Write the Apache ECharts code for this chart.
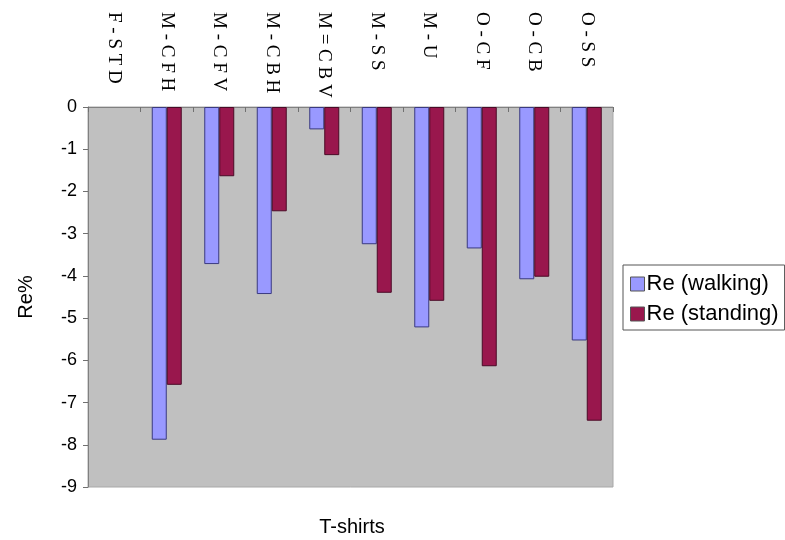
<!DOCTYPE html>
<html>
<head>
<meta charset="utf-8">
<script src="https://cdn.jsdelivr.net/npm/echarts@6/dist/echarts.min.js"></script>
<style>
  html, body { margin: 0; padding: 0; background: #ffffff; }
  #chart { width: 785px; height: 540px; }
</style>
</head>
<body>
<div id="chart"></div>
<script>
// T-shirt variants along the category axis
const categories = ['F-STD', 'M-CFH', 'M-CFV', 'M-CBH', 'M=CBV', 'M-SS', 'M-U', 'O-CF', 'O-CB', 'O-SS'];
// Re% while walking and while standing
const reWalking  = [0, -7.88, -3.72, -4.43, -0.53, -3.25, -5.22, -3.35, -4.08, -5.53];
const reStanding = [0, -6.58, -1.64, -2.47, -1.14, -4.40, -4.59, -6.14, -4.02, -7.43];
const seriesNames = ['Re (walking)', 'Re (standing)'];
const yMin = -9, yMax = 0, yStep = 1;

// zero-height bars get no outline so they leave no stray line on the axis
const toBarData = arr => arr.map(v => (v === 0 ? { value: v, itemStyle: { borderWidth: 0 } } : v));

const chart = echarts.init(document.getElementById('chart'), null, { renderer: 'canvas' });

chart.setOption({
  backgroundColor: '#ffffff',
  animation: false,
  grid: {
    left: 88, right: 172, top: 107, bottom: 53,
    show: true,
    backgroundColor: '#c0c0c0',
    borderColor: '#a8a8a8',
    borderWidth: 1
  },
  legend: {
    orient: 'vertical',
    left: 623, top: 265,
    padding: [8, 6, 5, 7],
    itemWidth: 14, itemHeight: 14, itemGap: 8,
    borderColor: '#555555', borderWidth: 1,
    icon: 'rect',
    itemStyle: { borderColor: '#555555', borderWidth: 1 },
    textStyle: { fontFamily: 'Liberation Sans, Arial', fontSize: 22, color: '#000000', padding: [0, 0, 0, -3] },
    data: seriesNames
  },
  xAxis: {
    type: 'category',
    position: 'top',
    data: categories,
    axisLine: { onZero: true, lineStyle: { color: '#808080', width: 1 } },
    axisTick: { show: true, inside: true, length: 5, lineStyle: { color: '#707070' } },
    axisLabel: {
      interval: 0,
      rotate: -90,
      margin: 95,
      align: 'left',
      verticalAlign: 'middle',
      fontFamily: 'Liberation Serif, Times New Roman, serif',
      fontSize: 19,
      color: '#000000',
      // spaced-out lettering
      formatter: v => v.split('').join(' ')
    }
  },
  yAxis: {
    type: 'value',
    min: yMin, max: yMax, interval: yStep,
    name: 'Re%',
    nameLocation: 'middle',
    nameGap: 52,
    nameRotate: 90,
    nameTextStyle: { fontFamily: 'Liberation Sans, Arial', fontSize: 20, color: '#000000' },
    axisLine: { show: true, lineStyle: { color: '#808080', width: 1 } },
    axisTick: { show: true, inside: false, length: 5, lineStyle: { color: '#707070' } },
    axisLabel: { margin: 11, fontFamily: 'Liberation Sans, Arial', fontSize: 18, color: '#000000' },
    splitLine: { show: false }
  },
  graphic: [{
    type: 'text',
    x: 352, y: 527,
    style: {
      text: 'T-shirts',
      align: 'center', verticalAlign: 'middle',
      font: '20px "Liberation Sans", Arial',
      fill: '#000000'
    }
  }],
  series: [
    {
      name: seriesNames[0],
      type: 'bar',
      data: toBarData(reWalking),
      barWidth: 15,
      barGap: '0%',
      itemStyle: { color: '#9999ff', borderColor: '#3a3a80', borderWidth: 1 }
    },
    {
      name: seriesNames[1],
      type: 'bar',
      data: toBarData(reStanding),
      barWidth: 15,
      barGap: '0%',
      itemStyle: { color: '#99174d', borderColor: '#4a0a26', borderWidth: 1 }
    }
  ]
});
</script>
</body>
</html>
